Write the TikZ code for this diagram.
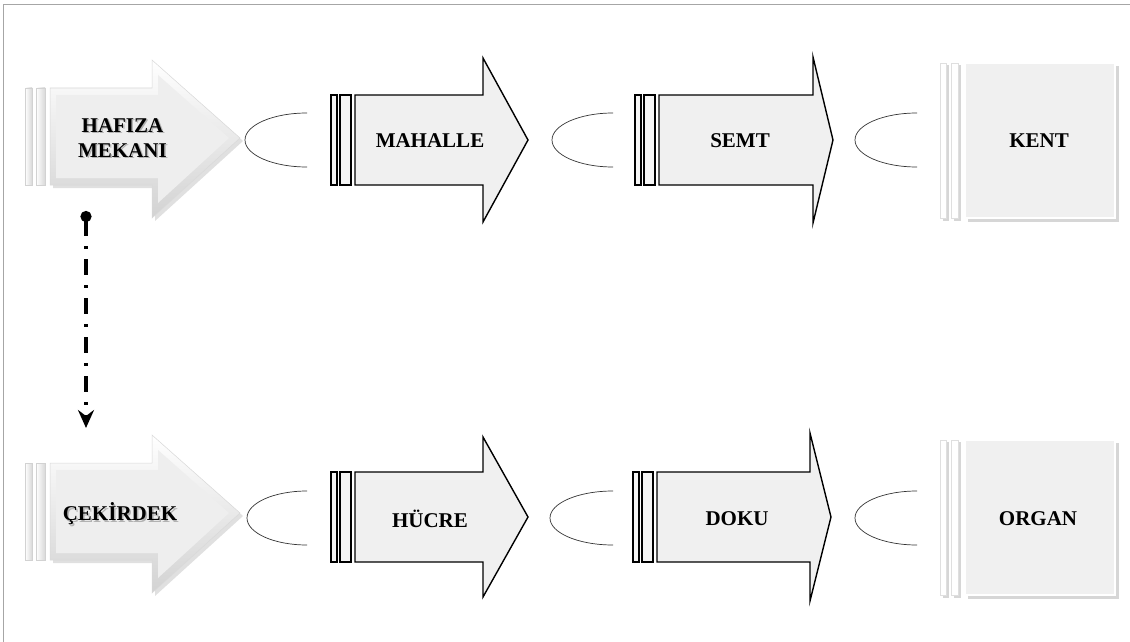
\documentclass[tikz,border=0pt]{standalone}
\usepackage{fontspec}
\setmainfont{Liberation Serif}
\usetikzlibrary{arrows.meta}
\tikzset{
  lbl/.style={font=\bfseries\fontsize{21}{25}\selectfont, align=center, inner sep=0pt},
  plainbody/.style={fill=gray!12, draw=black, line width=1.4pt, line join=miter},
  plainstripe/.style={fill=gray!8, draw=black, line width=1.2pt},
  fancyouter/.style={top color=white, bottom color=gray!35, draw=gray!30, line width=0.5pt},
  fancyinner/.style={fill=gray!13},
  fancyshadow/.style={fill=black, opacity=0.12},
  fancystripe/.style={left color=white, right color=gray!30, draw=gray!35, line width=0.4pt},
  halfell/.style={draw=black!80, line width=0.7pt},
  sqbox/.style={fill=gray!12, draw=white, line width=2.5pt},
  sqshadow/.style={fill=black, opacity=0.16},
  sqstripe/.style={fill=white, draw=gray!25, line width=0.5pt},
  flow/.style={line width=3.5pt, dash pattern=on 16pt off 10pt on 3pt off 10pt,
               {Circle[length=11pt]}-{Stealth[length=18pt,width=16pt,inset=6pt]}},
  frameline/.style={draw=gray!70, line width=1pt}
}
\newcommand\PlainArrow[5]{%
  \draw[plainstripe] (#1,{#4-45}) rectangle ++(6,90);
  \draw[plainstripe] ({#1+9},{#4-45}) rectangle ++(11,90);
  \draw[plainbody] ({#1+24},{#4-45}) -- (#2,{#4-45}) -- (#2,{#4-#5}) -- (#3,#4)
     -- (#2,{#4+#5}) -- (#2,{#4+45}) -- ({#1+24},{#4+45}) -- cycle;
}
\newcommand\FancyArrow[1]{%
  \begin{scope}[shift={(0,#1)}]
    \fill[fancyshadow] (53,91) -- (155,91) -- (155,63) -- (243,141) -- (155,221) -- (155,188) -- (53,188) -- cycle;
    \draw[fancystripe] (25,88) rectangle (32,185);
    \draw[fancystripe] (36,88) rectangle (45,185);
    \shade[fancyouter] (50,88) -- (152,88) -- (152,60) -- (240,138) -- (152,218) -- (152,185) -- (50,185) -- cycle;
    \fill[fancyinner] (56,95) -- (158,95) -- (158,75) -- (229,138) -- (158,203) -- (158,178) -- (56,178) -- cycle;
  \end{scope}
}
\newcommand\SquareBox[1]{%
  \fill[sqshadow] (943,{#1-75}) rectangle (949,{#1+81});
  \fill[sqshadow] (954,{#1-75}) rectangle (961,{#1+81});
  \draw[sqstripe] (940,{#1-77}) rectangle (946,{#1+78});
  \draw[sqstripe] (951,{#1-77}) rectangle (958,{#1+78});
  \fill[sqshadow] (968,{#1-74}) rectangle (1119,{#1+82});
  \draw[sqbox] (965,{#1-77}) rectangle (1115,{#1+78});
}
\newcommand\HalfEll[3]{%
  \draw[halfell] (#1,{#2+27}) arc[start angle=90, end angle=270, x radius=#3, y radius=27];
}
\begin{document}
\begin{tikzpicture}[x=1pt,y=-1pt]
  \useasboundingbox (0,0) rectangle (1130,642);
  \fill[white] (0,0) rectangle (1130,642);
  \draw[frameline] (3,642) -- (3,5) -- (1130,5);

  % top row
  \FancyArrow{0}
  \HalfEll{307}{140}{62}
  \PlainArrow{331}{483}{528}{140}{82}
  \HalfEll{613}{140}{61}
  \PlainArrow{635}{813}{833}{140}{83}
  \HalfEll{917}{140}{62}
  \SquareBox{140}

  % bottom row
  \FancyArrow{375}
  \HalfEll{307}{518}{60}
  \PlainArrow{331}{483}{528}{517}{80}
  \HalfEll{613}{518}{63}
  \PlainArrow{633}{810}{831}{517}{84}
  \HalfEll{917}{518}{62}
  \SquareBox{517}

  % labels
  \node[lbl, text=gray!60] at (124,139.5) {HAFIZA\\MEKANI};
  \node[lbl] (hafiza) at (122.5,138) {HAFIZA\\MEKANI};
  \node[lbl] (mahalle) at (430,141) {MAHALLE};
  \node[lbl] (semt) at (740,141) {SEMT};
  \node[lbl] (kent) at (1039,141) {KENT};
  \node[lbl, text=gray!60] at (121.5,515.5) {ÇEKİRDEK};
  \node[lbl] (cekirdek) at (120,514) {ÇEKİRDEK};
  \node[lbl] (hucre) at (430,519) {HÜCRE};
  \node[lbl] (doku) at (737,519) {DOKU};
  \node[lbl] (organ) at (1038,519) {ORGAN};

  % connector
  \coordinate (flowStart) at (86,211);
  \coordinate (flowEnd) at (86,428);
  \draw[flow] (flowStart) -- (flowEnd);
\end{tikzpicture}
\end{document}
